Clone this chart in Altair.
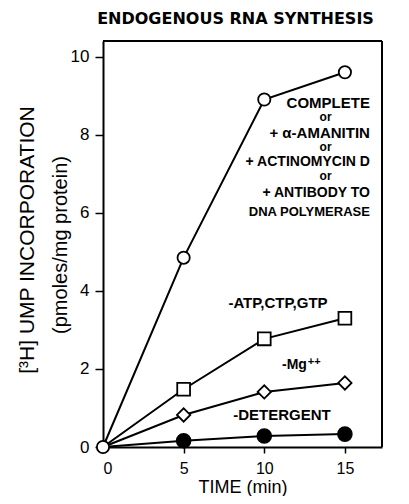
import altair as alt
import pandas as pd

# ---- data ----
times = [0, 5, 10, 15]
series_names = ["COMPLETE", "-ATP,CTP,GTP", "-Mg++", "-DETERGENT"]
complete = [0, 4.85, 8.9, 9.6]
minus_atp = [0, 1.48, 2.77, 3.3]
minus_mg = [0, 0.82, 1.41, 1.64]
minus_det = [0, 0.16, 0.28, 0.33]
series_values = [complete, minus_atp, minus_mg, minus_det]

shapes = ["circle", "square", "diamond", "circle"]
fills = ["white", "white", "white", "black"]
sizes = [150, 190, 240, 150]

x_ticks = [0, 5, 10, 15]
y_ticks = [0, 2, 4, 6, 8, 10]
x_max = 17.3
y_max = 10.4

# annotation text
ann_text = ["COMPLETE", "or", "+    α-AMANITIN", "or", "+ ACTINOMYCIN D", "or",
            "+ ANTIBODY  TO", "DNA POLYMERASE",
            "-ATP,CTP,GTP", "-Mg", "++", "-DETERGENT"]
ann_x = [16.55, 13.8, 16.55, 13.8, 16.55, 13.8, 16.55, 16.55,
         10.85, 11.1, 12.7, 11.1]
ann_y = [8.82, 8.46, 8.05, 7.69, 7.31, 6.95, 6.51, 6.03,
         3.69, 2.1, 2.17, 0.82]
ann_align = ["right", "center", "right", "center", "right", "center",
             "right", "right", "center", "left", "left", "center"]
ann_size = [15, 12, 15, 12, 14, 12, 14, 13, 15, 14, 11, 15]

y_title_lines = ["[³H] UMP INCORPORATION", "(pmoles/mg protein)"]

rows = []
for name, vals in zip(series_names, series_values):
    for t, v in zip(times, vals):
        rows.append({"series": name, "time": t, "value": v})
df = pd.DataFrame(rows)
# shared open circle at the origin: only keep the origin point of the first series
pts = df[(df["time"] > 0) | (df["series"] == series_names[0])]

ann = pd.DataFrame({"label": ann_text, "x": ann_x, "y": ann_y,
                    "align": ann_align, "size": ann_size})

xscale = alt.Scale(domain=[0, x_max], nice=False, zero=False)
yscale = alt.Scale(domain=[0, y_max], nice=False, zero=False)

x_enc = alt.X("time:Q", scale=xscale,
              axis=alt.Axis(values=x_ticks, title="TIME  (min)", grid=False,
                            domain=True, domainColor="black", domainWidth=2,
                            tickSize=6, labelPadding=7,
                            labelFontSize=16, titleFontSize=18,
                            titleBaseline="alphabetic", titleY=45))
y_enc = alt.Y("value:Q", scale=yscale,
              axis=alt.Axis(values=y_ticks, title=None,
                            domain=True, domainColor="black", domainWidth=2,
                            grid=False, tickSize=8, labelPadding=6,
                            labelFontSize=17))

# top and right edges of the plot frame
top_rule = alt.Chart(pd.DataFrame({"f": [0]})).mark_rule(color="black", strokeWidth=2).encode(
    y=alt.datum(y_max))
right_rule = alt.Chart(pd.DataFrame({"f": [0]})).mark_rule(color="black", strokeWidth=2).encode(
    x=alt.datum(x_max))

lines = alt.Chart(df).mark_line(color="black", strokeWidth=2).encode(
    x=x_enc, y=y_enc, detail="series:N", order="time:Q")

points = alt.Chart(pts).mark_point(filled=True, stroke="black", strokeWidth=1.8,
                                   opacity=1).encode(
    x="time:Q", y="value:Q",
    shape=alt.Shape("series:N", scale=alt.Scale(domain=series_names, range=shapes), legend=None),
    fill=alt.Fill("series:N", scale=alt.Scale(domain=series_names, range=fills), legend=None),
    size=alt.Size("series:N", scale=alt.Scale(domain=series_names, range=sizes), legend=None),
)

texts = []
for a in ["left", "center", "right"]:
    d = ann[ann["align"] == a]
    for fs in sorted(set(d["size"])):
        dd = d[d["size"] == fs]
        texts.append(alt.Chart(dd).mark_text(align=a, baseline="middle", fontWeight="bold",
                                             font="Liberation Sans", fontSize=int(fs),
                                             color="black").encode(
            x="x:Q", y="y:Q", text="label:N"))

# y-axis title (two lines, rotated)
ytitle1 = alt.Chart(pd.DataFrame({"t": [y_title_lines[0]]})).mark_text(
    angle=270, align="center", baseline="middle", fontSize=21, font="Liberation Sans",
    color="black").encode(text="t:N", x=alt.value(-75), y=alt.value(199))
ytitle2 = alt.Chart(pd.DataFrame({"t": [y_title_lines[1]]})).mark_text(
    angle=270, align="center", baseline="middle", fontSize=20, font="Liberation Sans",
    color="black").encode(text="t:N", x=alt.value(-42), y=alt.value(204))

chart = alt.layer(lines, top_rule, right_rule, points, *texts, ytitle1, ytitle2).properties(
    width=279, height=406,
    background="white",
    title=alt.TitleParams("ENDOGENOUS RNA SYNTHESIS", fontSize=16, fontWeight="bold",
                          font="DejaVu Sans", anchor="middle", dx=-7, offset=13,
                          color="black"),
    padding={"left": 95, "top": 33, "right": 19, "bottom": 49},
    autosize=alt.AutoSizeParams(type="none"),
).configure_view(strokeWidth=0).configure_axis(
    labelFont="Liberation Sans", titleFont="Liberation Sans", labelColor="black",
    titleColor="black", tickColor="black", tickWidth=1.5, titleFontWeight="normal",
)

chart.save("out.html", embed_options={"renderer": "svg", "actions": False})
